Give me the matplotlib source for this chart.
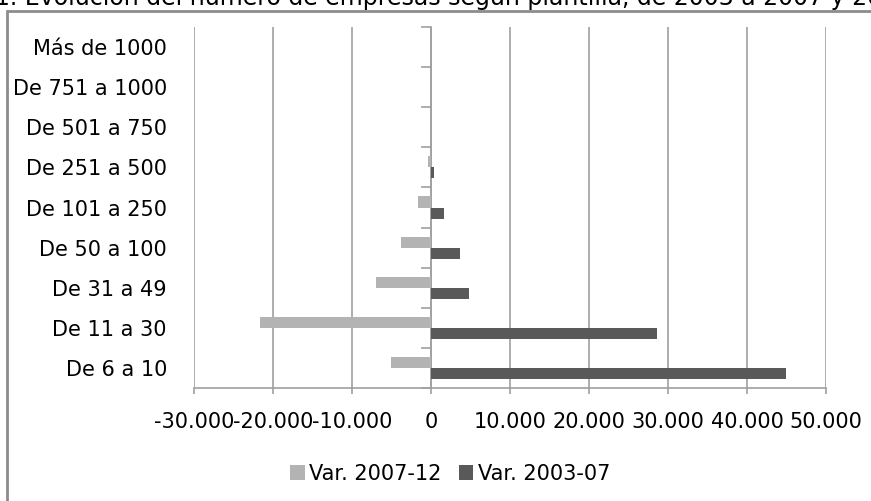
import numpy as np
import matplotlib.pyplot as plt
from matplotlib.ticker import FuncFormatter
from matplotlib.patches import Rectangle

plt.rcParams['font.family'] = ['DejaVu Sans']

categorias = ["De 6 a 10", "De 11 a 30", "De 31 a 49", "De 50 a 100", "De 101 a 250",
              "De 251 a 500", "De 501 a 750", "De 751 a 1000", "Más de 1000"]
var_2007_12 = [-5100, -21700, -6900, -3800, -1650, -400, -60, -40, -50]
var_2003_07 = [44900, 28600, 4800, 3650, 1700, 400, 60, 30, 40]
series = ["Var. 2007-12", "Var. 2003-07"]

fig = plt.figure(figsize=(8.71, 5.01), dpi=100)
ax = fig.add_axes([194/871, 1 - 388/501, 632/871, 361/501])

y = np.arange(len(categorias))
h = 0.275
ax.barh(y + h/2, var_2007_12, height=h, color="#b3b3b3", label=series[0], zorder=3)
ax.barh(y - h/2, var_2003_07, height=h, color="#595959", label=series[1], zorder=3)

ax.set_xlim(-30000, 50000)
ax.set_ylim(-0.5, len(categorias) - 0.5)
ax.set_xticks(np.arange(-30000, 50001, 10000))
ax.xaxis.set_major_formatter(FuncFormatter(lambda v, p: f"{int(v):,}".replace(",", ".")))
ax.grid(axis="x", color="#a0a0a0", linewidth=1.2, zorder=0)
ax.tick_params(axis="x", length=4, width=1.2, color="#a0a0a0", pad=13, labelsize=15)

ax.set_yticks(y)
ax.set_yticklabels(categorias, fontsize=15)
ax.tick_params(axis="y", length=0, pad=19.5)

for s in ["top", "right", "left"]:
    ax.spines[s].set_visible(False)
ax.spines["bottom"].set_color("#a0a0a0")
ax.spines["bottom"].set_linewidth(1.2)

# eje vertical en el cero con marcas entre categorias
sec = ax.secondary_yaxis(30000/80000)
sec.set_yticks(np.arange(-0.5, len(categorias), 1.0))
sec.set_yticklabels([])
sec.spines["left"].set_color("#a0a0a0")
sec.spines["left"].set_linewidth(1.2)
sec.tick_params(length=7, width=1.2, color="#a0a0a0", direction="out")

fig.legend(loc="center", bbox_to_anchor=(450/871, 1 - 474/501), ncol=2, frameon=False,
           fontsize=15, handlelength=0.7, handleheight=0.7, handletextpad=0.2, columnspacing=0.85)

fig.patches.append(Rectangle((7/871, -0.1), 1.2, 1.1 - 11/501, transform=fig.transFigure,
                             fill=False, edgecolor="#8c8c8c", linewidth=2))

fig.text(-0.006, 1 - 5/501, "1. Evolución del número de empresas según plantilla, de 2003 a 2007 y 2012",
         fontsize=17, ha="left", va="baseline")

fig.savefig("out.png", dpi=100)
